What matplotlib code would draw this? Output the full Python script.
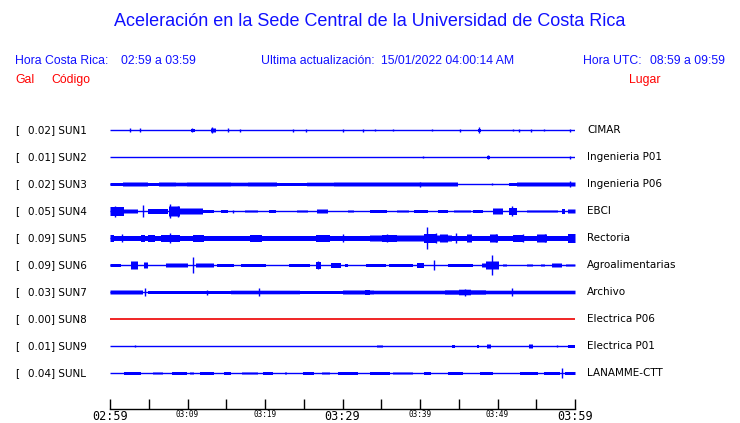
import numpy as np
import matplotlib
matplotlib.use("Agg")
import matplotlib.pyplot as plt
from matplotlib.transforms import blended_transform_factory

# ---------------- data ----------------
codes = ["SUN1", "SUN2", "SUN3", "SUN4", "SUN5", "SUN6", "SUN7", "SUN8", "SUN9", "SUNL"]
pga_gal = [0.02, 0.01, 0.02, 0.05, 0.09, 0.09, 0.03, 0.00, 0.01, 0.04]
places = ["CIMAR", "Ingenieria P01", "Ingenieria P06", "EBCI", "Rectoria",
          "Agroalimentarias", "Archivo", "Electrica P06", "Electrica P01", "LANAMME-CTT"]
trace_colors = ["#0000ff"] * 7 + ["#ee0000"] + ["#0000ff"] * 2

tick_minutes = list(range(0, 61, 5))
tick_labels = ["02:59", "", "03:09", "", "03:19", "", "03:29", "", "03:39", "", "03:49", "", "03:59"]
major_labels = ["02:59", "03:29", "03:59"]

# envelope bands (start minute, end minute, half amplitude) and spikes (minute, half amplitude)
sun1_bands = [(13.0, 13.6, 2.0), (10.4, 10.9, 1.5), (47.4, 47.8, 1.5)]
sun1_spikes = [(2.6, 2), (3.9, 2), (10.6, 2), (13.2, 3), (15.2, 2), (16.8, 1.5), (23.6, 1.5),
               (25.3, 1.5), (30.1, 1.5), (32.6, 1.5), (34.2, 1), (36.5, 1), (41.5, 1),
               (45.2, 1.5), (47.6, 3), (52.0, 1), (52.8, 1.5), (54.3, 1.5), (56.0, 1), (59.4, 1.5)]

sun2_bands = [(48.6, 49.0, 1.5)]
sun2_spikes = [(40.4, 1), (48.8, 2), (59.4, 1.5)]

sun3_bands = [(0.0, 1.6, 1.5), (1.6, 4.9, 2.0), (4.9, 6.2, 1.5), (6.2, 8.4, 2.0), (8.4, 9.9, 1.8),
              (9.9, 15.5, 2.0), (15.5, 17.7, 1.8), (17.7, 21.5, 2.0), (21.5, 25.4, 1.5),
              (25.4, 28.8, 1.8), (28.8, 44.9, 2.0), (51.4, 52.5, 1.5), (52.5, 60.0, 2.0)]
sun3_spikes = [(40.0, 2.5), (49.3, 1.0), (59.4, 3.0)]

sun4_bands = [(0.0, 1.7, 4.5), (1.7, 3.5, 2.0), (4.8, 7.4, 2.5), (7.5, 9.0, 5.0), (9.0, 11.9, 3.0),
              (11.9, 13.3, 1.5), (14.2, 15.1, 1.5), (17.4, 19.0, 1.0), (20.4, 21.3, 1.5),
              (24.1, 25.5, 1.0), (26.7, 28.0, 2.0), (30.6, 31.4, 1.0), (33.5, 35.7, 1.5),
              (37.0, 38.5, 1.0), (39.1, 41.0, 1.5), (42.2, 43.6, 1.5), (44.3, 46.5, 1.0),
              (46.8, 48.1, 1.5), (49.4, 50.7, 3.0), (51.4, 52.5, 3.5), (53.8, 57.7, 1.0),
              (58.3, 58.7, 2.5), (59.0, 60.0, 2.0)]
sun4_spikes = [(0.6, 5.5), (4.3, 6), (7.7, 7), (8.8, 5.5), (15.9, 1.5), (51.9, 5)]

sun5_bands = [(0.0, 60.0, 2.5), (0.0, 0.5, 3.5), (3.9, 4.5, 3.5), (4.9, 5.7, 3.5), (6.5, 9.0, 3.5),
              (10.6, 12.0, 3.5), (18.0, 19.6, 3.5), (26.5, 28.3, 3.5), (33.5, 44.0, 3.0),
              (35.0, 37.0, 3.5), (40.5, 42.0, 4.5), (42.5, 43.5, 4.0), (46.0, 46.6, 4.0),
              (49.0, 50.0, 4.0), (52.0, 53.3, 3.5), (55.0, 56.3, 4.0), (59.0, 60.0, 4.5)]
sun5_spikes = [(1.6, 4), (7.7, 5), (30.0, 4), (35.8, 4), (40.9, 11), (42.0, 5), (44.7, 5),
               (49.8, 4), (53.3, 4), (56.1, 4)]

sun6_bands = [(0.0, 1.3, 1.5), (2.6, 3.5, 4.0), (4.3, 4.8, 3.0), (7.1, 10.0, 2.0), (11.0, 13.3, 2.0),
              (13.8, 15.9, 1.5), (16.8, 20.0, 1.5), (23.0, 25.8, 1.5), (26.5, 27.1, 3.5),
              (28.4, 29.7, 2.5), (30.3, 30.6, 1.5), (33.0, 35.5, 1.5), (36.0, 39.0, 1.5),
              (39.6, 40.5, 2.5), (43.5, 46.8, 1.5), (48.0, 48.4, 2.0), (48.5, 50.1, 4.0),
              (50.6, 51.2, 1.0), (53.8, 54.5, 1.0), (55.5, 56.0, 1.0), (57.0, 58.3, 2.0),
              (58.8, 60.0, 1.0)]
sun6_spikes = [(10.7, 8), (26.8, 4), (41.8, 5), (49.3, 10)]

sun7_bands = [(0.0, 4.2, 2.0), (4.8, 15.5, 1.5), (15.5, 24.5, 1.8), (24.5, 30.0, 1.5),
              (30.0, 34.0, 2.0), (32.9, 33.5, 2.5), (34.0, 43.5, 1.8), (43.2, 48.5, 2.2),
              (45.0, 46.5, 2.8), (48.5, 60.0, 1.8)]
sun7_spikes = [(4.5, 4), (12.5, 2.5), (19.2, 4), (45.8, 3.5), (51.9, 4)]

sun8_bands = []
sun8_spikes = []

sun9_bands = [(34.4, 35.1, 1.0), (44.1, 44.4, 1.5), (47.3, 47.6, 1.5), (48.6, 49.1, 2.0),
              (54.0, 54.5, 2.0), (59.0, 59.9, 1.5)]
sun9_spikes = [(3.2, 1.0), (57.7, 1.0)]

sunl_bands = [(1.7, 3.9, 1.5), (5.5, 6.8, 1.0), (8.0, 9.9, 1.5), (10.3, 10.8, 1.0), (11.6, 13.3, 1.5),
              (14.6, 15.5, 1.5), (17.0, 19.0, 1.0), (19.7, 21.0, 1.5), (22.5, 22.8, 1.0),
              (24.8, 26.2, 1.5), (27.3, 28.3, 1.0), (29.3, 31.9, 1.5), (33.5, 36.1, 1.5),
              (36.5, 39.0, 1.0), (40.4, 41.3, 1.5), (43.5, 45.5, 1.5), (47.7, 49.4, 1.5),
              (52.9, 55.1, 1.5), (56.0, 58.0, 1.5), (58.7, 60.0, 1.5)]
sunl_spikes = [(58.3, 5)]

all_bands = [sun1_bands, sun2_bands, sun3_bands, sun4_bands, sun5_bands,
             sun6_bands, sun7_bands, sun8_bands, sun9_bands, sunl_bands]
all_spikes = [sun1_spikes, sun2_spikes, sun3_spikes, sun4_spikes, sun5_spikes,
              sun6_spikes, sun7_spikes, sun8_spikes, sun9_spikes, sunl_spikes]

# ---------------- figure ----------------
W, H = 740, 423
fig = plt.figure(figsize=(W / 100, H / 100), dpi=100)
fig.patch.set_facecolor("white")

def fx(px):
    return px / W

def fy(py):
    return 1 - py / H

ROW_PX = 27.0
ax = fig.add_axes([fx(110), fy(409), fx(575) - fx(110), fy(115) - fy(409)])
n = len(codes)
ax.set_xlim(0, 60)
ax.set_ylim(n - 1 + (409 - 373) / ROW_PX, -(130 - 115) / ROW_PX)

t = np.linspace(0, 60, 466)
for i in range(n):
    col = trace_colors[i]
    env = np.zeros_like(t)
    for (a, b, amp) in all_bands[i]:
        m = (t >= a) & (t <= b)
        env[m] = np.maximum(env[m], amp)
    env = env / ROW_PX
    ax.fill_between(t, i - env, i + env, step="mid", color=col, linewidth=0)
    ax.plot([0, 60], [i, i], color=col, lw=1.2 if i == 7 else 1.0, solid_capstyle="butt")
    if all_spikes[i]:
        sx = [s[0] for s in all_spikes[i]]
        sa = np.array([s[1] for s in all_spikes[i]]) / ROW_PX
        ax.vlines(sx, i - sa, i + sa, color=col, lw=1.0)

for s in ["top", "left", "right"]:
    ax.spines[s].set_visible(False)
ax.spines["bottom"].set_linewidth(1.0)
ax.spines["bottom"].set_color("black")
ax.set_yticks([])
ax.set_xticks(tick_minutes)
ax.set_xticklabels(tick_labels)
ax.tick_params(axis="x", direction="in", length=7, width=1.0, pad=1, colors="black")
for lab in ax.get_xticklabels():
    txt = lab.get_text()
    lab.set_family("DejaVu Sans Mono")
    lab.set_fontsize(8.5 if txt in major_labels else 5.5)
ax.patch.set_alpha(0)

# row labels
tr = blended_transform_factory(fig.transFigure, ax.transData)
for i in range(n):
    ax.text(fx(15), i, "[", transform=tr, ha="left", va="center", fontsize=7.5,
            family="DejaVu Sans", color="black")
    ax.text(fx(28), i, f"{pga_gal[i]:.2f}] {codes[i]}", transform=tr, ha="left", va="center",
            fontsize=7.5, family="DejaVu Sans", color="black")
    ax.text(fx(587), i, places[i], transform=tr, ha="left", va="center", fontsize=7.5,
            family="DejaVu Sans", color="black")

blue = "#1010ff"
red = "#ff0000"
hf = "Liberation Sans"
fig.text(0.5, fy(22), "Aceleración en la Sede Central de la Universidad de Costa Rica",
         ha="center", va="center", fontsize=13, color=blue, family=hf)
fig.text(fx(15), fy(61), "Hora Costa Rica:", ha="left", va="center", fontsize=8.8, color=blue, family=hf)
fig.text(fx(121), fy(61), "02:59 a 03:59", ha="left", va="center", fontsize=8.8, color=blue, family=hf)
fig.text(fx(261), fy(61), "Ultima actualización:", ha="left", va="center", fontsize=8.8, color=blue, family=hf)
fig.text(fx(381), fy(61), "15/01/2022 04:00:14 AM", ha="left", va="center", fontsize=8.8, color=blue, family=hf)
fig.text(fx(583), fy(61), "Hora UTC:", ha="left", va="center", fontsize=8.8, color=blue, family=hf)
fig.text(fx(650), fy(61), "08:59 a 09:59", ha="left", va="center", fontsize=8.8, color=blue, family=hf)
fig.text(fx(15), fy(80), "Gal", ha="left", va="center", fontsize=8.8, color=red, family=hf)
fig.text(fx(51), fy(80), "Código", ha="left", va="center", fontsize=8.8, color=red, family=hf)
fig.text(fx(629), fy(80), "Lugar", ha="left", va="center", fontsize=8.8, color=red, family=hf)

fig.savefig("out.png", dpi=100, facecolor="white")
